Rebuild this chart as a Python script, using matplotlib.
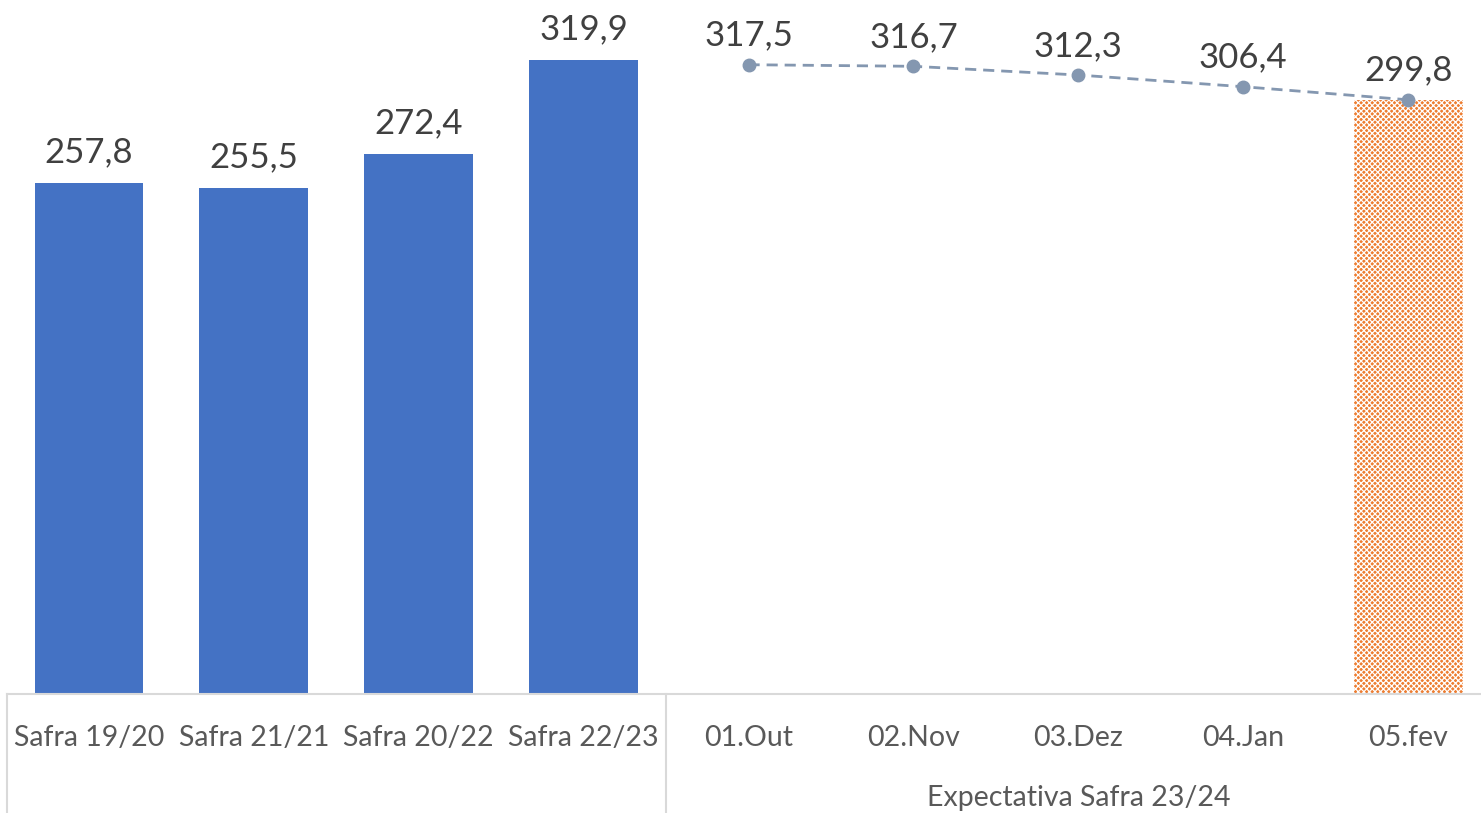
import numpy as np
import matplotlib
matplotlib.use('Agg')
from matplotlib import pyplot as plt

categories = ['Safra 19/20', 'Safra 21/21', 'Safra 20/22', 'Safra 22/23',
              '01.Out', '02.Nov', '03.Dez', '04.Jan', '05.fev']
bar_values = [257.8, 255.5, 272.4, 319.9]
expect_values = [317.5, 316.7, 312.3, 306.4, 299.8]
group_label = 'Expectativa Safra 23/24'

plt.rcParams['font.family'] = ['Lato', 'DejaVu Sans']
plt.rcParams['hatch.linewidth'] = 0.9
text_color = '#404040'
grid_color = '#D9D9D9'

W, H = 1481, 813
fig = plt.figure(figsize=(W / 100, H / 100), dpi=100)
step = 164.9
ax = fig.add_axes([6.5 / W, (H - 694) / H, 9 * step / W, 694 / H])

x = np.arange(len(categories))
x_bars = x[:len(bar_values)]
x_exp = x[len(bar_values):]

ax.bar(x_bars, bar_values, width=0.66, color='#4472C4', zorder=2)
for xi, v in zip(x_bars, bar_values):
    ax.annotate(f'{v:.1f}'.replace('.', ','), (xi, v), xytext=(0, 22),
                textcoords='offset points', ha='center', va='center',
                fontsize=25, color=text_color)

# last forecast shown as hatched bar
ax.bar(x_exp[-1], expect_values[-1], width=0.66, color='#ED7D31', zorder=2)
ax.bar(x_exp[-1], expect_values[-1], width=0.66, facecolor='none',
       edgecolor='white', hatch='xxxxxx', linewidth=0, zorder=2)

ax.plot(x_exp, expect_values, color='#8497B0', linestyle=(0, (4, 2.5)), lw=2,
        marker='o', markersize=9, zorder=3)
for xi, v in zip(x_exp, expect_values):
    ax.annotate(f'{v:.1f}'.replace('.', ','), (xi, v), xytext=(0, 21),
                textcoords='offset points', ha='center', va='center',
                fontsize=25, color=text_color)

ax.set_xlim(-0.5, len(categories) - 0.5)
ax.set_ylim(0, 694 / 1.982)
ax.set_xticks([])
ax.set_yticks([])
for s in ['top', 'right', 'left']:
    ax.spines[s].set_visible(False)
ax.spines['bottom'].set_color(grid_color)
ax.spines['bottom'].set_linewidth(1.5)

for xi, lab in zip(x, categories):
    ax.text(xi, -44 / 1.982, lab, ha='center', va='center', fontsize=20.5,
            color='#595959', clip_on=False)
ax.text(x_exp.mean(), -104 / 1.982, group_label, ha='center', va='center',
        fontsize=20.5, color='#595959', clip_on=False)

for xb in [-0.5, 3.5]:
    ax.plot([xb, xb], [0, -130 / 1.982], color=grid_color, lw=1.5,
            clip_on=False)

fig.savefig('out.png', dpi=100)
